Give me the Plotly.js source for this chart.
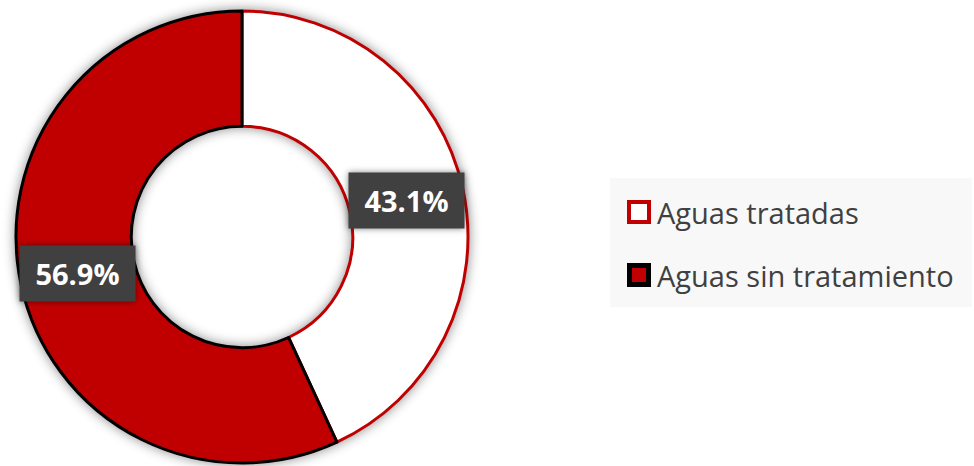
<!DOCTYPE html>
<html>
<head>
<meta charset="utf-8">
<script src="https://cdn.plot.ly/plotly-3.0.1.min.js"></script>
<style>
  html, body { margin: 0; padding: 0; background: #ffffff; }
  #chart { width: 974px; height: 466px; }
  #chart .pielayer g.trace { filter: drop-shadow(0px 0px 6px rgba(0,0,0,0.45)); }
</style>
</head>
<body>
<div id="chart"></div>
<script>
// ---- Data ----
const categories = ['Aguas tratadas', 'Aguas sin tratamiento'];
const values = [43.1, 56.9];
const legendLabels = ['Aguas tratadas', 'Aguas sin tratamiento'];

// ---- Styles ----
const sliceColors = ['#ffffff', '#c00000'];
const lineColors = ['#c00000', '#000000'];
const W = 974, H = 466;
const holeFrac = 0.49;
const domX = [16 / W, 468 / W];
const domY = [3 / H, 455 / H];

// pie geometry (pixels) derived from domain
const cxPx = (domX[0] + domX[1]) / 2 * W;
const cyPx = (1 - (domY[0] + domY[1]) / 2) * H;
const Rpx = Math.min((domX[1] - domX[0]) * W, (domY[1] - domY[0]) * H) / 2;
const midR = Rpx * (1 + holeFrac) / 2;

const total = values.reduce((a, b) => a + b, 0);
const labelAnnots = [];
let cum = 0;
values.forEach((v, i) => {
  const mid = (cum + v / 2) / total * 2 * Math.PI; // clockwise from 12 o'clock
  cum += v;
  const px = cxPx + midR * Math.sin(mid);
  const py = cyPx - midR * Math.cos(mid);
  labelAnnots.push({
    xref: 'paper', yref: 'paper',
    x: px / W, y: 1 - py / H,
    xanchor: 'center', yanchor: 'middle',
    text: (v / total * 100).toFixed(1) + '%',
    showarrow: false,
    bgcolor: '#404040',
    width: 113, height: 53, borderpad: 1,
    font: { family: 'Open Sans, sans-serif', size: 29, color: '#ffffff', weight: 'bold' }
  });
});

// custom legend
const legBox = { x0: 610, x1: 972, y0: 178, y1: 307 };
const itemY = [212, 275];
const shapes = [{
  type: 'rect', xref: 'paper', yref: 'paper', layer: 'above',
  x0: legBox.x0 / W, x1: legBox.x1 / W, y0: 1 - legBox.y1 / H, y1: 1 - legBox.y0 / H,
  fillcolor: '#f8f8f8', line: { width: 0 }
}];
const legAnnots = [];
legendLabels.forEach((lab, i) => {
  const lw = i === 0 ? 4 : 5;
  const half = 12 - lw / 2;
  shapes.push({
    type: 'rect', xref: 'paper', yref: 'paper', layer: 'above',
    x0: (639 - half) / W, x1: (639 + half) / W,
    y0: 1 - (itemY[i] + half) / H, y1: 1 - (itemY[i] - half) / H,
    fillcolor: sliceColors[i], line: { color: lineColors[i], width: lw }
  });
  legAnnots.push({
    xref: 'paper', yref: 'paper',
    x: 655 / W, y: 1 - itemY[i] / H,
    xanchor: 'left', yanchor: 'middle',
    text: lab, showarrow: false,
    font: { family: 'Open Sans, sans-serif', size: 29, color: '#404040' }
  });
});

const data = [{
  type: 'pie',
  labels: categories,
  values: values,
  sort: false,
  direction: 'clockwise',
  rotation: 0,
  hole: holeFrac,
  textinfo: 'none',
  hoverinfo: 'label+percent',
  marker: { colors: sliceColors, line: { color: lineColors, width: 3 } },
  domain: { x: domX, y: domY },
  showlegend: false
}];

const layout = {
  width: W, height: H,
  margin: { l: 0, r: 0, t: 0, b: 0 },
  paper_bgcolor: '#ffffff',
  showlegend: false,
  shapes: shapes,
  annotations: labelAnnots.concat(legAnnots)
};

Plotly.newPlot('chart', data, layout, { displayModeBar: false, staticPlot: true }).then(() => {
  const ann = document.querySelectorAll('#chart g.annotation');
  for (let i = 0; i < labelAnnots.length && i < ann.length; i++) {
    const bg = ann[i].querySelector('rect.bg');
    if (bg) bg.style.filter = 'drop-shadow(0px 0px 3px rgba(0,0,0,0.5))';
  }
});
</script>
</body>
</html>
